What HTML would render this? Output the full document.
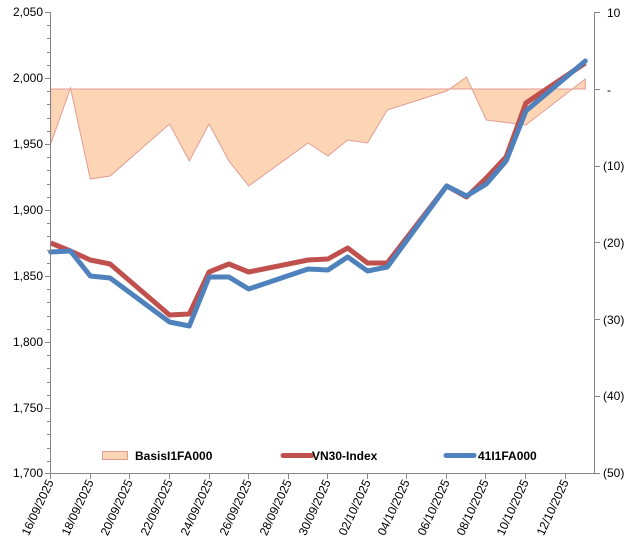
<!DOCTYPE html>
<html><head><meta charset="utf-8"><style>
html,body{margin:0;padding:0;background:#fff;}
svg{display:block;font-family:"Liberation Sans",Arial,sans-serif;}
</style></head><body>
<svg width="636" height="553" viewBox="0 0 636 553" xmlns="http://www.w3.org/2000/svg">
<rect width="636" height="553" fill="#fff"/>
<!-- basis area -->
<polygon fill="#fcd5b4" stroke="#e39c94" stroke-width="1"
 points="50.7,89 50.7,144 70.5,88 90.3,179 110.1,176 169.5,124 189.3,161 209.1,124 228.9,161 248.7,186 308.1,143 327.9,156 347.7,140 367.5,143 387.3,110 446.7,91 466.5,77 486.3,120 525.9,125 585.3,79 585.3,89"/>
<!-- VN30 red -->
<polyline fill="none" stroke="#c0504d" stroke-width="5" stroke-linejoin="round"
 points="50.7,243 70.5,251 90.3,260 110.1,264 169.5,315 189.3,314 209.1,272 228.9,264 248.7,272 308.1,260 327.9,259 347.7,248 367.5,263 387.3,263 446.7,186 466.5,197 486.3,178 506.1,157 525.9,103 585.3,63"/>
<!-- 41I1FA000 blue -->
<polyline fill="none" stroke="#4f81bd" stroke-width="5" stroke-linejoin="round" stroke-linecap="round"
 points="50.7,252 70.5,251 90.3,276 110.1,278 169.5,322 189.3,326 209.1,277 228.9,277 248.7,289 308.1,269 327.9,270 347.7,257 367.5,271 387.3,267 446.7,186 466.5,196 486.3,184 506.1,161 525.9,111 585.3,61"/>
<!-- axes -->
<g stroke="#868686" stroke-width="1" fill="none">
<line x1="50.5" y1="12" x2="50.5" y2="473"/>
<line x1="594.5" y1="12" x2="594.5" y2="473"/>
<line x1="50" y1="473.5" x2="595" y2="473.5"/>
<!-- left ticks -->
<path d="M45,12.5H50 M45,78.5H50 M45,144.5H50 M45,210.5H50 M45,276.5H50 M45,342.5H50 M45,408.5H50 M45,473.5H50"/>
<path d="M47,25.5H50 M47,38.5H50 M47,52.5H50 M47,65.5H50 M47,91.5H50 M47,104.5H50 M47,118.5H50 M47,131.5H50 M47,157.5H50 M47,170.5H50 M47,184.5H50 M47,197.5H50 M47,223.5H50 M47,236.5H50 M47,250.5H50 M47,263.5H50 M47,289.5H50 M47,302.5H50 M47,316.5H50 M47,329.5H50 M47,355.5H50 M47,368.5H50 M47,382.5H50 M47,395.5H50 M47,421.5H50 M47,434.5H50 M47,448.5H50 M47,461.5H50"/>
<!-- right ticks -->
<path d="M595,12.5H600 M595,89.5H600 M595,166.5H600 M595,242.5H600 M595,319.5H600 M595,396.5H600 M595,473.5H600"/>
<!-- x ticks -->
<path d="M50.5,473V479 M90.5,473V479 M129.5,473V479 M169.5,473V479 M209.5,473V479 M248.5,473V479 M288.5,473V479 M327.5,473V479 M367.5,473V479 M406.5,473V479 M446.5,473V479 M485.5,473V479 M525.5,473V479 M565.5,473V479"/>
</g>
<!-- left labels -->
<g font-size="12" fill="#000" text-anchor="end">
<text x="43" y="16">2,050</text>
<text x="43" y="82">2,000</text>
<text x="43" y="148">1,950</text>
<text x="43" y="214">1,900</text>
<text x="43" y="280">1,850</text>
<text x="43" y="346">1,800</text>
<text x="43" y="412">1,750</text>
<text x="43" y="477">1,700</text>
</g>
<g font-size="12" fill="#000">
<text x="607" y="17">10</text>
<text x="607" y="94">-</text>
<text x="603" y="170">(10)</text>
<text x="603" y="247">(20)</text>
<text x="603" y="324">(30)</text>
<text x="603" y="400">(40)</text>
<text x="603" y="477">(50)</text>
</g>
<!-- x labels -->
<g font-size="12" fill="#000" text-anchor="end">
<text transform="translate(54,482) rotate(-65)">16/09/2025</text>
<text transform="translate(94,482) rotate(-65)">18/09/2025</text>
<text transform="translate(133,482) rotate(-65)">20/09/2025</text>
<text transform="translate(173,482) rotate(-65)">22/09/2025</text>
<text transform="translate(213,482) rotate(-65)">24/09/2025</text>
<text transform="translate(252,482) rotate(-65)">26/09/2025</text>
<text transform="translate(292,482) rotate(-65)">28/09/2025</text>
<text transform="translate(331,482) rotate(-65)">30/09/2025</text>
<text transform="translate(371,482) rotate(-65)">02/10/2025</text>
<text transform="translate(410,482) rotate(-65)">04/10/2025</text>
<text transform="translate(450,482) rotate(-65)">06/10/2025</text>
<text transform="translate(489,482) rotate(-65)">08/10/2025</text>
<text transform="translate(529,482) rotate(-65)">10/10/2025</text>
<text transform="translate(569,482) rotate(-65)">12/10/2025</text>
</g>
<!-- legend -->
<rect x="102.5" y="451.5" width="25" height="8" fill="#fcd5b4" stroke="#e39c94"/>
<text x="135" y="460" font-size="12" font-weight="bold">BasisI1FA000</text>
<line x1="283" y1="455.5" x2="312" y2="455.5" stroke="#c0504d" stroke-width="5" stroke-linecap="round"/>
<text x="312" y="460" font-size="12" font-weight="bold">VN30-Index</text>
<line x1="446" y1="455.5" x2="474" y2="455.5" stroke="#4f81bd" stroke-width="5" stroke-linecap="round"/>
<text x="478" y="460" font-size="12" font-weight="bold">41I1FA000</text>
</svg>
</body></html>
